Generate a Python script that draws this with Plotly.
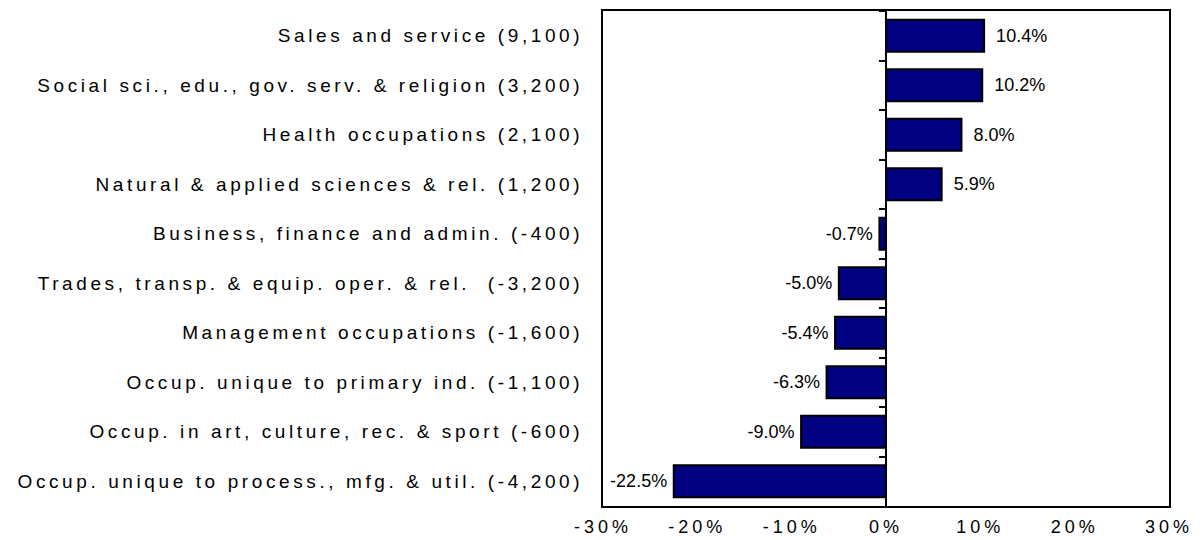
import plotly.graph_objects as go

occupations = [
    "Sales and service (9,100)",
    "Social sci., edu., gov. serv. & religion (3,200)",
    "Health occupations (2,100)",
    "Natural & applied sciences & rel. (1,200)",
    "Business, finance and admin. (-400)",
    "Trades, transp. & equip. oper. & rel.  (-3,200)",
    "Management occupations (-1,600)",
    "Occup. unique to primary ind. (-1,100)",
    "Occup. in art, culture, rec. & sport (-600)",
    "Occup. unique to process., mfg. & util. (-4,200)",
]
pct_change = [10.4, 10.2, 8.0, 5.9, -0.7, -5.0, -5.4, -6.3, -9.0, -22.5]
x_ticks = [-30, -20, -10, 0, 10, 20, 30]
x_tick_labels = ["-30%", "-20%", "-10%", "0%", "10%", "20%", "30%"]

FONT = "Liberation Sans, Arial, sans-serif"
n = len(occupations)

# small spacer between bar end and its label, as in the original
bar_labels = ["\u2002%.1f%%" % v if v > 0 else "%.1f%%\u2009" % v for v in pct_change]

fig = go.Figure()
fig.add_trace(go.Bar(
    x=pct_change,
    y=occupations,
    orientation="h",
    marker=dict(color="#000080", line=dict(color="black", width=2)),
    width=0.65,
    text=bar_labels,
    texttemplate="%{text}",
    textposition="outside",
    textfont=dict(family=FONT, size=18, color="black"),
    cliponaxis=False,
    hoverinfo="skip",
    showlegend=False,
))
# invisible trace so the zero-line axis (with its boundary ticks) gets drawn
fig.add_trace(go.Scatter(
    x=pct_change,
    y=occupations,
    yaxis="y2",
    mode="markers",
    marker=dict(opacity=0),
    hoverinfo="skip",
    showlegend=False,
))

fig.update_layout(
    width=1204,
    height=540,
    margin=dict(l=603, r=35, t=11, b=34, autoexpand=False),
    plot_bgcolor="white",
    paper_bgcolor="white",
    font=dict(family=FONT, size=18, color="black"),
    xaxis=dict(
        range=[-30, 30],
        tickvals=x_ticks,
        ticktext=x_tick_labels,
        showgrid=False,
        zeroline=False,
        showline=True,
        linecolor="black",
        linewidth=2,
        mirror=True,
        ticks="",
        ticklabelstandoff=3,
        automargin=False,
        tickfont=dict(size=18),
    ),
    yaxis=dict(
        type="category",
        range=[n - 0.5, -0.5],
        showgrid=False,
        showline=True,
        linecolor="black",
        linewidth=2,
        mirror=True,
        ticks="",
        ticklabelstandoff=14,
        automargin=False,
        tickfont=dict(size=19),
    ),
    yaxis2=dict(
        type="category",
        range=[n - 0.5, -0.5],
        overlaying="y",
        anchor="free",
        position=0.5,
        showgrid=False,
        showline=True,
        linecolor="black",
        linewidth=2,
        ticks="outside",
        tickson="boundaries",
        ticklen=6,
        tickwidth=2,
        tickcolor="black",
        showticklabels=False,
        automargin=False,
    ),
)

# the original export has very loose letter spacing; also drop the body margin
css = ("body{margin:0}"
       ".ytick text{letter-spacing:3.6px}"
       ".xtick text{letter-spacing:4px}")
post = ("var s=document.createElement('style');s.textContent='" + css +
        "';document.head.appendChild(s);")

fig.write_html("out.html", post_script=post, config={"displayModeBar": False})
